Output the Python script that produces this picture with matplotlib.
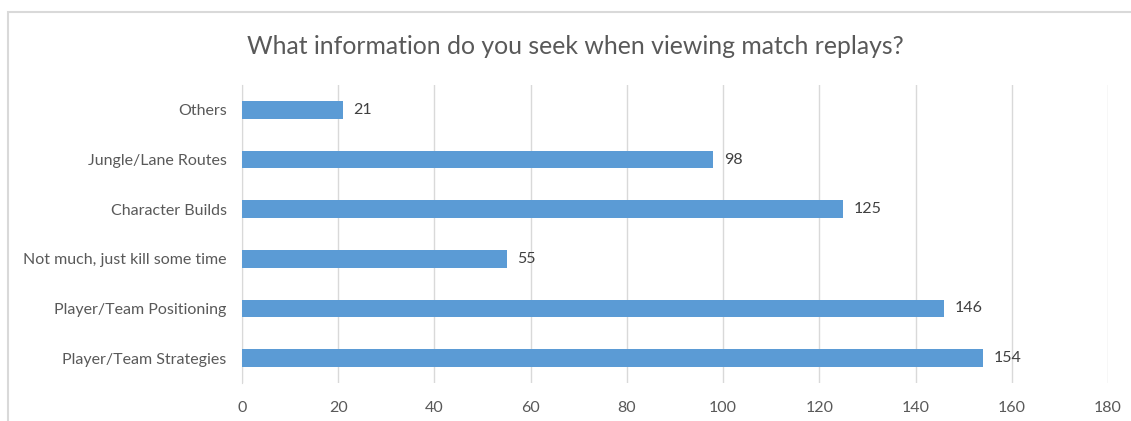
import matplotlib.pyplot as plt
from matplotlib.patches import Rectangle

# Survey answers, listed bottom to top
categories = ["Player/Team Strategies", "Player/Team Positioning",
              "Not much, just kill some time", "Character Builds",
              "Jungle/Lane Routes", "Others"]
counts = [154, 146, 55, 125, 98, 21]
x_ticks = [0, 20, 40, 60, 80, 100, 120, 140, 160, 180]

plt.rcParams['font.family'] = ['Lato', 'DejaVu Sans']

fig = plt.figure(figsize=(11.31, 4.21), dpi=100)

# chart frame
fig.patches.append(Rectangle((8 / 1131, -0.1), 1.2, 1.1 - 12 / 421,
                             transform=fig.transFigure, fill=False,
                             edgecolor='#D9D9D9', linewidth=1.5))

ax = fig.add_axes([242 / 1131, 1 - 383 / 421, 866 / 1131, 298 / 421])
ypos = range(len(categories))
ax.barh(ypos, counts, height=0.35, color='#5B9BD5', zorder=3)

for y, v in zip(ypos, counts):
    ax.annotate(str(v), (v, y), xytext=(7.5, 0), textcoords='offset points',
                va='center', ha='left', fontsize=11.5, color='#404040')

ax.set_xlim(0, 180)
ax.set_ylim(-0.5, len(categories) - 0.5)
ax.set_xticks(x_ticks)
ax.set_yticks(list(ypos))
ax.set_yticklabels(categories)
ax.tick_params(axis='both', length=0, labelsize=11.5, labelcolor='#595959')
ax.tick_params(axis='y', pad=11)
ax.tick_params(axis='x', pad=13)
ax.grid(axis='x', color='#D9D9D9', linewidth=1, zorder=0)
for s in ['top', 'right', 'bottom']:
    ax.spines[s].set_visible(False)
ax.spines['left'].set_color('#D9D9D9')

fig.text(0.5 + 10 / 1131, 1 - 47 / 421,
         "What information do you seek when viewing match replays?",
         ha='center', va='center', fontsize=17.8, color='#595959')

fig.savefig('out.png', dpi=100)
